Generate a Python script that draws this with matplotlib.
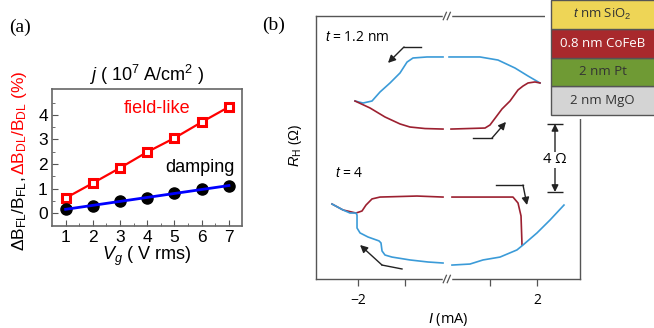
import numpy as np
import matplotlib.pyplot as plt

plt.rcParams['mathtext.fontset'] = 'custom'
plt.rcParams['mathtext.rm'] = 'Liberation Sans'
plt.rcParams['mathtext.it'] = 'Liberation Sans:italic'
plt.rcParams['mathtext.bf'] = 'Liberation Sans:bold'

# (a) relative torque change vs drive voltage
vg = [1, 2, 3, 4, 5, 6, 7]
field_like = [0.61, 1.22, 1.84, 2.49, 3.06, 3.71, 4.33]
damping = [0.16, 0.29, 0.49, 0.61, 0.82, 0.98, 1.10]

# (b) Hall resistance loops, current in mA, R_H offset in ohm (nan = axis break)
nan = np.nan
thin_down_i = [-2.064, -1.894, -1.702, -1.532, -1.319, -1.106, -0.957, -0.830, -0.532, -0.191,
               nan, 0.128, 0.787, 1.170, 1.532, 1.809, 2.064]
thin_down_r = [10.47, 10.35, 10.47, 11.00, 11.53, 12.12, 12.76, 13.00, 13.06, 13.06,
               nan, 13.06, 13.06, 12.88, 12.41, 11.94, 11.53]
thin_up_i = [-2.064, -1.745, -1.426, -1.106, -0.894, -0.574, -0.191,
             nan, 0.170, 0.894, 1.000, 1.128, 1.255, 1.426, 1.596, 1.702, 1.809, 1.957, 2.064]
thin_up_r = [10.47, 10.06, 9.53, 9.12, 8.94, 8.85, 8.82,
             nan, 8.82, 8.88, 9.06, 9.53, 10.00, 10.47, 11.12, 11.35, 11.53, 11.59, 11.53]
thick_down_i = [-2.553, -2.319, -2.170, -2.043, -2.021, -2.021, -1.957, -1.787, -1.553, -1.511,
                -1.489, -1.426, -1.277, -0.894, -0.511, -0.191,
                nan, 0.191, 0.574, 0.851, 1.213, 1.574, 1.702, 2.000, 2.277, 2.574]
thick_down_r = [4.41, 4.06, 3.88, 3.88, 3.76, 3.00, 2.71, 2.47, 2.24, 2.12,
                1.65, 1.41, 1.29, 1.12, 1.00, 0.94,
                nan, 0.82, 0.88, 1.12, 1.29, 1.71, 2.00, 2.71, 3.47, 4.35]
thick_up_i = [-2.553, -2.319, -2.043, -1.915, -1.830, -1.702, -1.532, -0.745, -0.191,
              nan, 0.191, 1.000, 1.489, 1.596, 1.660, 1.681]
thick_up_r = [4.41, 4.06, 3.88, 4.00, 4.35, 4.71, 4.82, 4.88, 4.82,
              nan, 4.82, 4.82, 4.82, 4.47, 3.71, 2.00]

layers = ['2 nm MgO', '2 nm Pt', '0.8 nm CoFeB', r'$t$ nm SiO$_2$']
layer_colors = ['#d4d4d4', '#6f9a34', '#a8292c', '#eed556']
layer_text = ['#333333', '#333333', 'white', '#333333']

W, H = 654, 328
fig = plt.figure(figsize=(W / 100, H / 100), dpi=100)


def box(l, t, r, b):
    return [l / W, 1 - b / H, (r - l) / W, (b - t) / H]


def at(x, y):
    # pixel position measured from the top-left corner -> figure fraction
    return x / W, 1 - y / H


# ---------------- panel (a) ----------------
fs_a = 13
ax = fig.add_axes(box(52, 89, 242, 226))
ax.plot(vg, field_like, '-s', color='red', lw=1.6, ms=5.5, mew=2.2, mfc='white', mec='red', zorder=3)
ax.plot(vg, damping, 'o', color='black', ms=8, zorder=3)
k, c = np.polyfit(vg, damping, 1)
xs = np.array([vg[0], vg[-1]])
ax.plot(xs, k * xs + c, color='blue', lw=2, zorder=4)

ax.set_xlim(0.5, 7.48)
ax.set_ylim(-0.53, 5.06)
ax.set_xticks(vg)
ax.set_yticks([0, 1, 2, 3, 4])
ax.set_xticks(np.arange(1.5, 7, 1), minor=True)
ax.set_yticks(np.arange(0.5, 5, 1), minor=True)
ax.tick_params(which='both', direction='in', labelsize=12.5, color='#555555', pad=3)
ax.tick_params(which='major', length=4)
ax.tick_params(which='minor', length=2)
for lab in ax.get_xticklabels() + ax.get_yticklabels():
    lab.set_family('Liberation Sans')
for s in ax.spines.values():
    s.set_color('#666666')
    s.set_linewidth(1.2)

fig.text(*at(157, 108), 'field-like', color='red', fontsize=fs_a, family='Liberation Sans',
         ha='center', va='center')
fig.text(*at(200, 168), 'damping', color='black', fontsize=fs_a, family='Liberation Sans',
         ha='center', va='center')
ax.set_title(r'$j$ ( 10$^7$ A/cm$^2$ )', fontsize=fs_a, family='Liberation Sans', pad=6)
ax.set_xlabel(r'$V_g$ ( V rms)', fontsize=fs_a, family='Liberation Sans', labelpad=0)

lab_black = fig.text(*at(20, 251), r'$\Delta$B$_\mathrm{FL}$/B$_\mathrm{FL}$, ', rotation=90,
                     ha='center', va='bottom', fontsize=12.5, family='Liberation Sans')
ax.annotate(r'$\Delta$B$_\mathrm{DL}$/B$_\mathrm{DL}$ (%)', xy=(0.5, 1), xycoords=lab_black,
            rotation=90, ha='center', va='bottom', fontsize=12.5, color='red',
            family='Liberation Sans')

fig.text(*at(20, 27), '(a)', family='Liberation Serif', fontsize=14, ha='center', va='center')
fig.text(*at(274, 25), '(b)', family='Liberation Serif', fontsize=14, ha='center', va='center')

# ---------------- panel (b) ----------------
gap = 0.0957


def squeeze(i):
    i = np.asarray(i, dtype=float)
    return np.sign(i) * np.maximum(np.abs(i) - gap, 0)


def unsqueeze(u):
    u = np.asarray(u, dtype=float)
    return np.sign(u) * (np.abs(u) + gap)


bx = fig.add_axes(box(316, 16, 580, 279))
bx.set_xscale('function', functions=(squeeze, unsqueeze))
blue, dred = '#3b9bd8', '#9c2030'
bx.plot(thin_down_i, thin_down_r, color=blue, lw=1.2)
bx.plot(thin_up_i, thin_up_r, color=dred, lw=1.2)
bx.plot(thick_up_i, thick_up_r, color=dred, lw=1.2)
bx.plot(thick_down_i, thick_down_r, color=blue, lw=1.2)

bx.set_xlim(-2.894, 2.915)
bx.set_ylim(0, 15.47)
bx.set_xticks([-2, 2])
bx.set_xticklabels(['\u22122', '2'], family='Open Sans', fontsize=10)
bx.set_xticks([-1, 1], minor=True)
bx.set_yticks([])
bx.tick_params(which='both', axis='x', direction='out', length=5, width=0.9, color='#555555', pad=5)
for s in bx.spines.values():
    s.set_color('#555555')
    s.set_linewidth(1)
bx.set_xlabel(r'$I$ (mA)', family='Open Sans', fontsize=10.5, labelpad=2)
fig.text(*at(296, 145), r'$R_\mathrm{H}$ ($\Omega$)', rotation=90, family='Open Sans',
         fontsize=10.5, ha='center', va='center')

# axis break marks on the top and bottom spines
for yf in (0, 1):
    bx.plot([0.486, 0.506], [yf, yf], color='white', lw=2.5, transform=bx.transAxes,
            clip_on=False, zorder=5)
    for xf in (0.488, 0.503):
        bx.plot([xf - 0.006, xf + 0.006], [yf - 0.014, yf + 0.014], color='#555555', lw=0.9,
                transform=bx.transAxes, clip_on=False, zorder=6)


def bent_arrow(pts):
    xs_, ys_ = zip(*pts)
    bx.plot(xs_[:-1], ys_[:-1], color='#222222', lw=1)
    bx.annotate('', xy=pts[-1], xytext=pts[-2],
                arrowprops=dict(arrowstyle='-|>', color='#222222', lw=1, mutation_scale=11,
                                shrinkA=0, shrinkB=0))


bent_arrow([(-0.660, 13.65), (-1.021, 13.65), (-1.362, 12.71)])
bent_arrow([(0.638, 8.29), (1.042, 8.29), (1.340, 9.24)])
bent_arrow([(1.128, 5.53), (1.702, 5.53), (1.787, 4.35)])
bent_arrow([(-1.064, 0.59), (-1.489, 0.82), (-1.957, 2.0)])

# 4 ohm scale bar
bx.annotate('', xy=(2.383, 9.12), xytext=(2.383, 5.12),
            arrowprops=dict(arrowstyle='<|-|>', color='#222222', lw=1, mutation_scale=10,
                            shrinkA=0, shrinkB=0))
bx.hlines([5.12, 9.12], 2.213, 2.553, color='#222222', lw=1)
bx.text(2.383, 7.0, '4 \u03a9', family='Open Sans', fontsize=10.5, ha='center', va='center',
        bbox=dict(fc='white', ec='none', pad=0.5))

bx.text(0.034, 0.92, r'$t$ = 1.2 nm', transform=bx.transAxes, family='Open Sans', fontsize=10,
        va='center')
bx.text(0.072, 0.403, r'$t$ = 4', transform=bx.transAxes, family='Open Sans', fontsize=10,
        va='center')

# layer stack
sx = fig.add_axes(box(545, 0, 654, 119))
sx.set_facecolor('white')
h = 115 / len(layers)
ys = [115 - h * (i + 0.5) for i in range(len(layers))]
sx.barh(ys, 120, height=h, left=6, color=layer_colors, edgecolor='#555555', lw=1)
for y, name, tc in zip(ys, layers, layer_text):
    sx.text(6 + 51.5, y, name, color=tc, ha='center', va='center', family='Open Sans', fontsize=9.5)
sx.set_xlim(0, 109)
sx.set_ylim(119, 0)
sx.set_xticks([])
sx.set_yticks([])
for s in sx.spines.values():
    s.set_visible(False)

fig.savefig('out.png', dpi=100)
